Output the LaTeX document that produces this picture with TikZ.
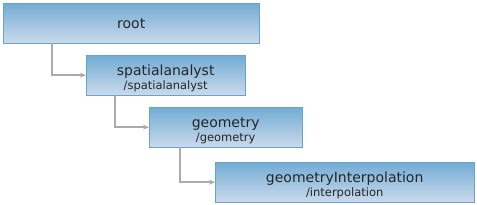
\documentclass[tikz,border=0pt]{standalone}
\usepackage{fontspec}
\setmainfont{DejaVu Sans}
\usetikzlibrary{positioning,arrows.meta,calc}
\definecolor{treetop}{HTML}{72ACD4}
\definecolor{treebot}{HTML}{CBDAEC}
\definecolor{treeedge}{HTML}{6AA2CE}
\definecolor{treelink}{HTML}{ABABAB}
\newcommand{\subpath}[1]{\rule{0pt}{17pt}\\[-1pt]{\fontsize{11.5}{12}\selectfont #1}}

\begin{document}
\begin{tikzpicture}[x=1pt, y=-1pt, font=\fontsize{14}{15}\selectfont,
  tbox/.style={draw=treeedge, top color=treetop, bottom color=treebot, anchor=north west,
    align=center, inner sep=0pt, minimum height=40pt, text=black!85},
  link/.style={-{Stealth[length=6pt, width=5pt]}, draw=treelink, line width=1.5pt}]
\useasboundingbox (0,0) rectangle (477,205);
\node[tbox, minimum width=256pt] (root) at (3,3) {root};
\node[tbox, minimum width=159pt] (spatial) at (86,55) {spatialanalyst\subpath{/spatialanalyst}};
\node[tbox, minimum width=153pt] (geom) at (149,107) {geometry\subpath{/geometry}};
\node[tbox, minimum width=259pt] (interp) at (215,162) {geometryInterpolation\subpath{/interpolation}};
% elbow links
\draw[link] ($(root.south west)+(49,0)$) |- (spatial.west);
\draw[link] ($(spatial.south west)+(29,0)$) |- (geom.west);
\draw[link] ($(geom.south west)+(31,0)$) |- (interp.west);
\end{tikzpicture}
\end{document}
